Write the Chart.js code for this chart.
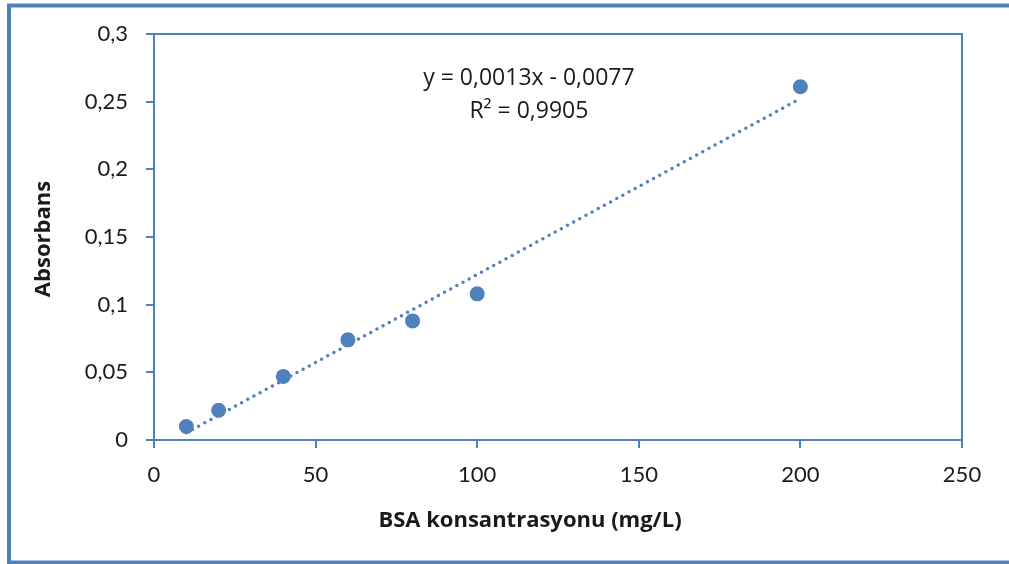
<!DOCTYPE html>
<html>
<head>
<meta charset="utf-8">
<script src="https://cdn.jsdelivr.net/npm/chart.js@4/dist/chart.umd.min.js"></script>
<style>
  body { margin: 0; background: #fff; }
  canvas { display: block; }
</style>
</head>
<body>
<canvas id="bsaChart" width="1009" height="564"></canvas>
<script>
// BSA standard curve
const concentrations = [10, 20, 40, 60, 80, 100, 200];
const absorbances = [0.010, 0.022, 0.047, 0.074, 0.088, 0.108, 0.261];

// linear trendline from the fitted equation
const slope = 0.0013;
const intercept = -0.0077;
const rSquared = 0.9905;

const xTitle = 'BSA konsantrasyonu (mg/L)';
const yTitle = 'Absorbans';

const blue = '#4f81bd';
const textColor = '#1a1a1a';

const comma = v => String(v).replace('.', ',');
const equationLines = [
  'y = ' + comma(slope) + 'x ' + (intercept < 0 ? '- ' : '+ ') + comma(Math.abs(intercept)),
  'R² = ' + comma(rSquared)
];

const points = concentrations.map((c, i) => ({ x: c, y: absorbances[i] }));
const xFirst = concentrations[0];
const xLast = concentrations[concentrations.length - 1];
const trend = [
  { x: xFirst, y: slope * xFirst + intercept },
  { x: xLast, y: slope * xLast + intercept }
];

// outer frame, top/right edges of the plot box, axis titles
const frame = {
  id: 'frame',
  beforeDraw(chart) {
    const ctx = chart.ctx;
    ctx.save();
    ctx.strokeStyle = blue;
    ctx.lineWidth = 4;
    ctx.beginPath();
    ctx.moveTo(1009, 5.5);
    ctx.lineTo(9, 5.5);
    ctx.lineTo(9, 562.5);
    ctx.lineTo(1009, 562.5);
    ctx.stroke();
    ctx.restore();
  },
  afterDraw(chart) {
    const { ctx, chartArea: a } = chart;
    ctx.save();
    ctx.strokeStyle = blue;
    ctx.lineWidth = 2;
    ctx.beginPath();
    ctx.moveTo(a.left, a.top);
    ctx.lineTo(a.right, a.top);
    ctx.lineTo(a.right, a.bottom);
    ctx.stroke();

    // titles sit centred on the whole chart, not on the plot box
    ctx.fillStyle = textColor;
    ctx.font = 'bold 22px "Open Sans"';
    ctx.textAlign = 'center';
    ctx.textBaseline = 'middle';
    ctx.fillText(xTitle, 530, 521);
    ctx.translate(44, 239);
    ctx.rotate(-Math.PI / 2);
    ctx.fillText(yTitle, 0, 0);
    ctx.restore();
  }
};

// equation label next to the trendline
const equation = {
  id: 'equation',
  afterDatasetsDraw(chart) {
    const { ctx, scales: { x, y } } = chart;
    ctx.save();
    ctx.fillStyle = textColor;
    ctx.font = '23px "Open Sans"';
    ctx.textAlign = 'center';
    ctx.textBaseline = 'middle';
    const cx = x.getPixelForValue(116);
    ctx.fillText(equationLines[0], cx, y.getPixelForValue(0.2675));
    ctx.fillText(equationLines[1], cx, y.getPixelForValue(0.2425));
    ctx.restore();
  }
};

new Chart(document.getElementById('bsaChart'), {
  type: 'scatter',
  data: {
    datasets: [
      {
        label: 'Absorbans',
        data: points,
        backgroundColor: blue,
        borderColor: blue,
        pointRadius: 7.5,
        pointHoverRadius: 7.5,
        borderWidth: 0
      },
      {
        label: 'Doğrusal',
        data: trend,
        showLine: true,
        pointRadius: 0,
        borderColor: blue,
        borderWidth: 3.5,
        borderDash: [0, 7],
        borderCapStyle: 'round'
      }
    ]
  },
  options: {
    responsive: false,
    animation: false,
    layout: { padding: { top: 34, right: 47, left: 0, bottom: 0 } },
    plugins: {
      legend: { display: false },
      tooltip: { enabled: false }
    },
    scales: {
      x: {
        type: 'linear',
        min: 0,
        max: 250,
        ticks: {
          stepSize: 50,
          padding: 14,
          color: textColor,
          font: { family: 'Lato', size: 22 }
        },
        grid: { drawOnChartArea: false, color: blue, tickLength: 8, lineWidth: 2 },
        border: { color: blue, width: 2 },
        afterFit(scale) { scale.height = 124; }
      },
      y: {
        min: 0,
        max: 0.3,
        ticks: {
          stepSize: 0.05,
          padding: 18,
          color: textColor,
          font: { family: 'Lato', size: 22 },
          callback: v => comma(parseFloat(v.toFixed(2)))
        },
        grid: { drawOnChartArea: false, color: blue, tickLength: 8, lineWidth: 2 },
        border: { color: blue, width: 2 },
        afterFit(scale) { scale.width = 154; }
      }
    }
  },
  plugins: [frame, equation]
});
</script>
</body>
</html>
